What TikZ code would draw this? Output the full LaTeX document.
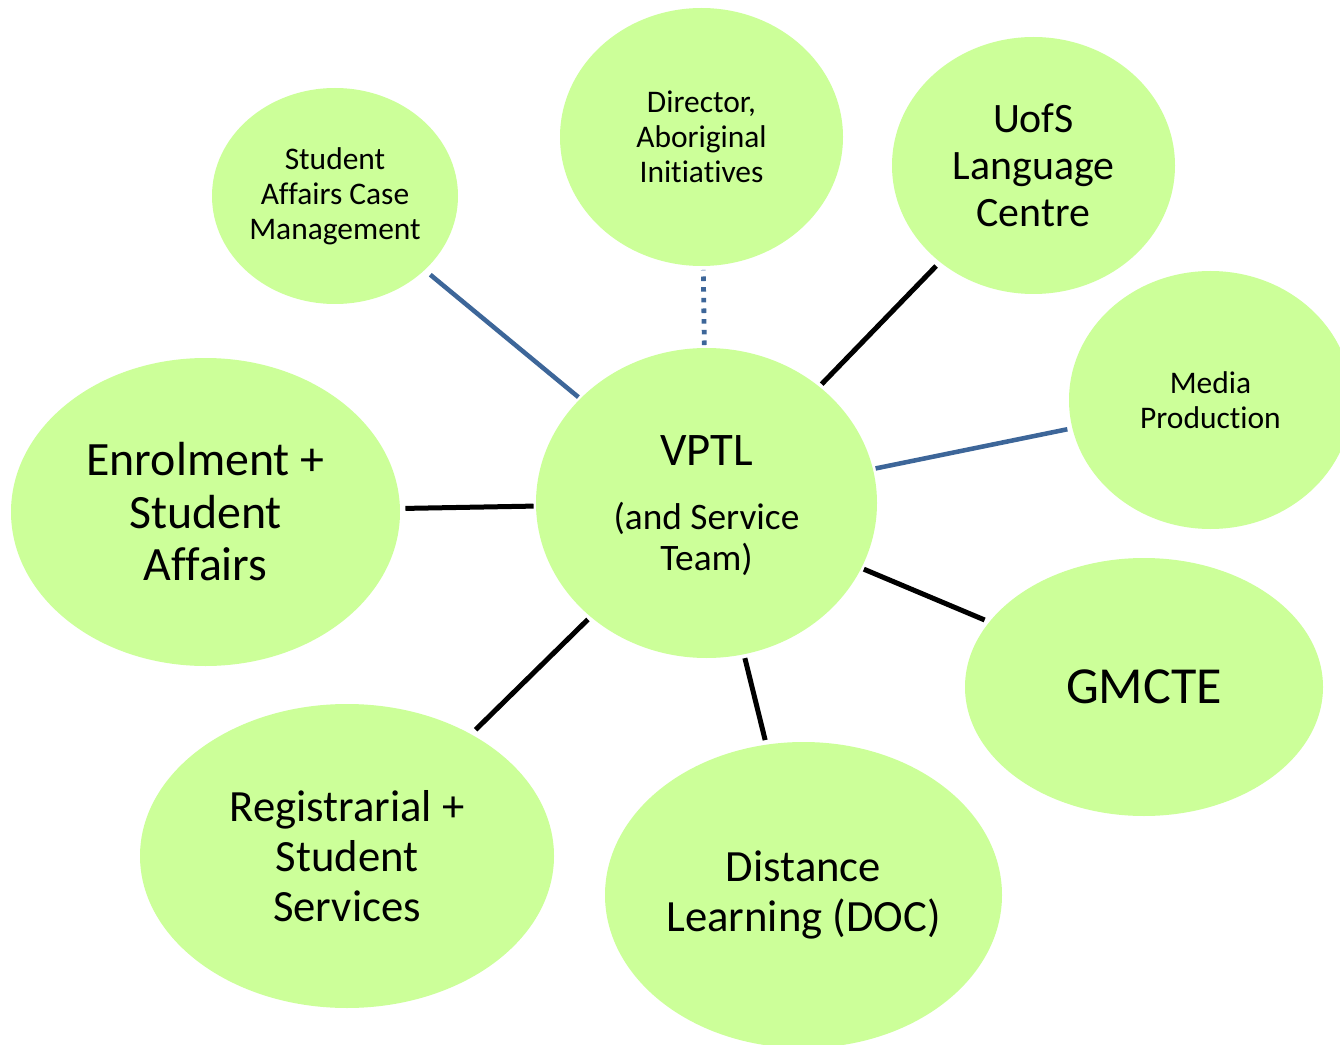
\documentclass[tikz,border=0pt]{standalone}
\usepackage{fontspec}
\setmainfont[Ligatures=NoCommon]{Carlito}
\usetikzlibrary{shapes.geometric}
\newlength\pxu
\setlength\pxu{0.75pt}
\definecolor{bubgreen}{HTML}{CCFF99}
\definecolor{linkblue}{HTML}{3D6699}
\tikzset{
  bub/.style={ellipse, fill=bubgreen, inner sep=0pt, outer sep=0pt, align=center, text=black},
  fsmall/.style={font=\fontsize{23.6}{26.3}\selectfont},
  flc/.style={font=\fontsize{31.4}{35.2}\selectfont},
  fbig/.style={font=\fontsize{33.5}{37.5}\selectfont},
  fenrol/.style={font=\fontsize{35.9}{39.4}\selectfont},
  fgm/.style={font=\fontsize{39}{47}\selectfont},
  fvptl/.style={font=\fontsize{28}{31}\selectfont},
  blacklink/.style={draw=black, line width=3.75pt},
  bluelink/.style={draw=linkblue, line width=3.4pt},
  dotlink/.style={draw=linkblue, line width=3.6pt, dash pattern=on 3.4pt off 4.6pt},
}
\begin{document}
\begin{tikzpicture}[x=0.75pt, y=-0.75pt]
\clip (0,0) rectangle (1340,1045);
\fill[white] (0,0) rectangle (1340,1045);
% bubbles
\node[bub, fsmall, minimum width=246\pxu, minimum height=216\pxu] (scm) at (335,196)
  {Student\\Affairs Case\\Management};
\node[bub, fsmall, minimum width=283\pxu, minimum height=258\pxu] (dir) at (701.5,137)
  {Director,\\Aboriginal\\Initiatives};
\node[bub, flc, minimum width=283\pxu, minimum height=257\pxu] (lc) at (1033.5,165.5)
  {UofS\\Language\\Centre};
\node[bub, fsmall, minimum width=283\pxu, minimum height=258\pxu] (media) at (1210.5,400)
  {Media\\Production};
\node[bub, fvptl, minimum width=341\pxu, minimum height=310\pxu] (vptl) at (706.5,503)
  {{\fontsize{35}{42}\selectfont\rule{0pt}{26.5pt}VPTL}\\[17pt](and Service\\Team)};
\node[bub, fenrol, minimum width=389\pxu, minimum height=308\pxu] (enrol) at (205.5,512)
  {Enrolment +\\Student\\Affairs};
\node[bub, fgm, minimum width=358\pxu, minimum height=258\pxu] (gm) at (1144,687)
  {GMCTE};
\node[bub, fbig, minimum width=414\pxu, minimum height=304\pxu] (reg) at (347,856)
  {Registrarial +\\Student\\Services};
\node[bub, fbig, minimum width=397\pxu, minimum height=306\pxu] (dist) at (803.5,895)
  {Distance\\Learning (DOC)};
% connectors
\draw[bluelink, shorten <=166.2\pxu, shorten >=123.6\pxu] (vptl.center) -- (scm.center);
\draw[dotlink, shorten <=158\pxu, shorten >=133\pxu] (vptl.center) -- (dir.center);
\draw[blacklink, shorten <=165.5\pxu, shorten >=140\pxu] (vptl.center) -- (lc.center);
\draw[bluelink, shorten <=172.6\pxu, shorten >=146.1\pxu] (vptl.center) -- (media.center);
\draw[blacklink, shorten <=173\pxu, shorten >=200\pxu] (vptl.center) -- (enrol.center);
\draw[blacklink, shorten <=170.7\pxu, shorten >=172.9\pxu] (vptl.center) -- (gm.center);
\draw[blacklink, shorten <=166.2\pxu, shorten >=180.3\pxu] (vptl.center) -- (reg.center);
\draw[blacklink, shorten <=159.8\pxu, shorten >=159.6\pxu] (vptl.center) -- (dist.center);
\end{tikzpicture}
\end{document}
